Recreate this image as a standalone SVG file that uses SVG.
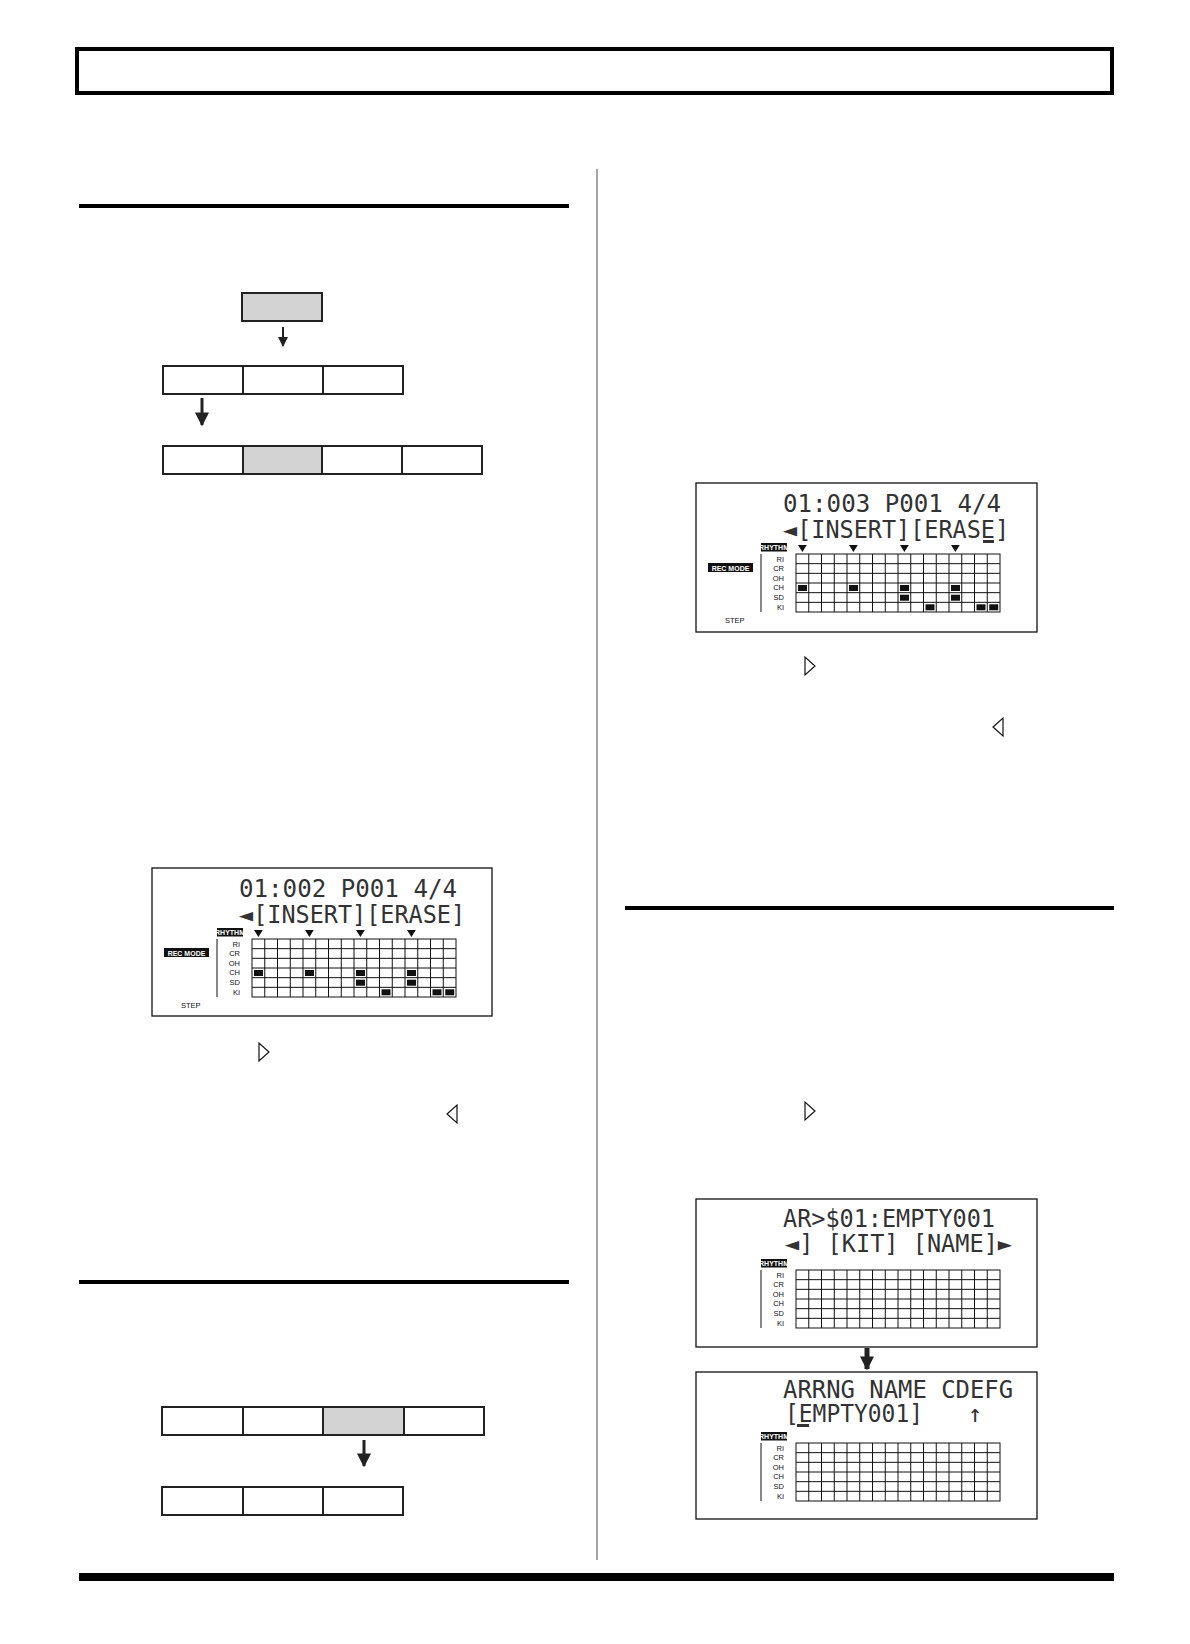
<svg xmlns="http://www.w3.org/2000/svg" width="1190" height="1644" viewBox="0 0 1190 1644">
<style>
.box{fill:#fff;stroke:#222;stroke-width:2}
.gray{fill:#d3d3d3}
.lcd{fill:#fff;stroke:#111;stroke-width:1.3}
.lt{font-family:"DejaVu Sans Mono",monospace;font-size:24px;fill:#333}
.lb{font-family:"Liberation Sans",Arial,sans-serif;font-size:7.5px;fill:#111;text-anchor:end}
.wt{font-family:"Liberation Sans",Arial,sans-serif;font-size:7px;fill:#fff;font-weight:bold;text-anchor:middle}
.st{font-family:"Liberation Sans",Arial,sans-serif;font-size:7.5px;fill:#111}
.grid{fill:none;stroke:#111;stroke-width:1}
.tri{fill:#fff;stroke:#111;stroke-width:1.2}
</style>
<defs>
<marker id="ah" viewBox="0 0 10 10" refX="9" refY="5" markerWidth="10" markerHeight="10" markerUnits="userSpaceOnUse" orient="auto"><path d="M0,0 L10,5 L0,10 Z" fill="#222"/></marker>
<marker id="ah2" viewBox="0 0 10 10" refX="9" refY="5" markerWidth="14" markerHeight="14" markerUnits="userSpaceOnUse" orient="auto"><path d="M0,0 L10,5 L0,10 Z" fill="#222"/></marker>
<g id="grid">
<rect x="100" y="71" width="204" height="58" class="grid"/>
<path class="grid" d="M112.75,71V129M125.5,71V129M138.25,71V129M151,71V129M163.75,71V129M176.5,71V129M189.25,71V129M202,71V129M214.75,71V129M227.5,71V129M240.25,71V129M253,71V129M265.75,71V129M278.5,71V129M291.25,71V129M100,80.67H304M100,90.33H304M100,100H304M100,109.67H304M100,119.33H304"/>
<line x1="65" y1="71" x2="65" y2="129" stroke="#111" stroke-width="1"/>
<text class="lb" x="88" y="78.5">RI</text>
<text class="lb" x="88" y="88">CR</text>
<text class="lb" x="88" y="97.7">OH</text>
<text class="lb" x="88" y="107.3">CH</text>
<text class="lb" x="88" y="117">SD</text>
<text class="lb" x="88" y="126.7">KI</text>
<rect x="65" y="60" width="26" height="8.5" fill="#111"/>
<text class="wt" x="78" y="67">RHYTHM</text>
</g>
<g id="rec">
<rect x="12" y="80" width="45" height="9" fill="#111"/>
<text class="wt" x="34.5" y="87.5">REC MODE</text>
<text class="st" x="29" y="140">STEP</text>
<g fill="#111">
<path d="M102,62h8.8l-4.4,7zM153,62h8.8l-4.4,7zM204,62h8.8l-4.4,7zM255,62h8.8l-4.4,7z"/>
<rect x="102" y="102" width="9" height="6"/><rect x="153" y="102" width="9" height="6"/><rect x="204" y="102" width="9" height="6"/><rect x="255" y="102" width="9" height="6"/>
<rect x="204" y="111.7" width="9" height="6"/><rect x="255" y="111.7" width="9" height="6"/>
<rect x="229.5" y="121.3" width="9" height="6"/><rect x="280.5" y="121.3" width="9" height="6"/><rect x="293.25" y="121.3" width="9" height="6"/>
</g>
</g>
</defs>

<g id="header"><rect x="77" y="49" width="1035" height="44" fill="#fff" stroke="#000" stroke-width="4"/></g>
<g id="rules">
<rect x="79" y="204" width="490" height="4" fill="#000"/>
<rect x="79" y="1280" width="490" height="4" fill="#000"/>
<rect x="625" y="906" width="489" height="4" fill="#000"/>
<rect x="79" y="1573" width="1035" height="8" fill="#000"/>
<line x1="597" y1="169" x2="597" y2="1560" stroke="#888" stroke-width="1.5"/>
</g>

<g id="top-source"><rect x="242" y="293" width="80" height="28" class="box gray"/></g>
<g id="top-row1">
<rect x="163" y="366" width="80" height="28" class="box"/><rect x="243" y="366" width="80" height="28" class="box"/><rect x="323" y="366" width="80" height="28" class="box"/>
</g>
<g id="top-row2">
<rect x="163" y="446" width="80" height="28" class="box"/><rect x="243" y="446" width="79" height="28" class="box gray"/><rect x="322" y="446" width="80" height="28" class="box"/><rect x="402" y="446" width="80" height="28" class="box"/>
</g>
<g id="bot-row1">
<rect x="162" y="1407" width="81" height="28" class="box"/><rect x="243" y="1407" width="80" height="28" class="box"/><rect x="323" y="1407" width="81" height="28" class="box gray"/><rect x="404" y="1407" width="80" height="28" class="box"/>
</g>
<g id="bot-row2">
<rect x="162" y="1487" width="81" height="28" class="box"/><rect x="243" y="1487" width="80" height="28" class="box"/><rect x="323" y="1487" width="80" height="28" class="box"/>
</g>

<g id="lcd1" transform="translate(152,868)">
<rect x="0" y="0" width="340" height="148" class="lcd"/>
<text class="lt" x="87" y="29" textLength="218" lengthAdjust="spacingAndGlyphs">01:002 P001 4/4</text>
<text class="lt" x="87" y="55" textLength="226" lengthAdjust="spacingAndGlyphs">◄[INSERT][ERASE]</text>
<use href="#grid"/><use href="#rec"/>
</g>
<g id="lcd2" transform="translate(696,483)">
<rect x="0" y="0" width="341" height="149" class="lcd"/>
<text class="lt" x="87" y="29" textLength="218" lengthAdjust="spacingAndGlyphs">01:003 P001 4/4</text>
<text class="lt" x="87" y="55" textLength="226" lengthAdjust="spacingAndGlyphs">◄[INSERT][ERASE]</text>
<rect x="287" y="57" width="11" height="3" fill="#333"/>
<use href="#grid"/><use href="#rec"/>
</g>
<g id="lcd3" transform="translate(696,1199)">
<rect x="0" y="0" width="341" height="148" class="lcd"/>
<text class="lt" x="87" y="28" textLength="212" lengthAdjust="spacingAndGlyphs">AR&gt;$01:EMPTY001</text>
<text class="lt" x="89" y="53" textLength="227" lengthAdjust="spacingAndGlyphs">◄] [KIT] [NAME]►</text>
<use href="#grid"/>
</g>
<g id="lcd4" transform="translate(696,1372)">
<rect x="0" y="0" width="341" height="147" class="lcd"/>
<text class="lt" x="87" y="26" textLength="230" lengthAdjust="spacingAndGlyphs">ARRNG NAME CDEFG</text>
<text class="lt" x="89" y="50" textLength="138" lengthAdjust="spacingAndGlyphs">[EMPTY001]</text>
<text class="lt" x="272" y="50">↑</text>
<rect x="101" y="52" width="12" height="3" fill="#333"/>
<use href="#grid"/>
</g>

<g id="cursor-marks">
<polygon class="tri" points="259,1043 259,1061 269,1052"/>
<polygon class="tri" points="457,1105 457,1123 447,1114"/>
<polygon class="tri" points="805,657 805,675 815,666"/>
<polygon class="tri" points="1003,718 1003,736 993,727"/>
<polygon class="tri" points="805,1102 805,1120 815,1111"/>
</g>

<g id="connectors" stroke="#222" fill="none">
<line x1="283" y1="327" x2="283" y2="346" stroke-width="2" marker-end="url(#ah)"/>
<line x1="202" y1="398" x2="202" y2="425" stroke-width="3" marker-end="url(#ah2)"/>
<line x1="364" y1="1440" x2="364" y2="1466" stroke-width="3" marker-end="url(#ah2)"/>
<line x1="867" y1="1348" x2="867" y2="1369" stroke-width="5" marker-end="url(#ah2)"/>
</g>
</svg>
